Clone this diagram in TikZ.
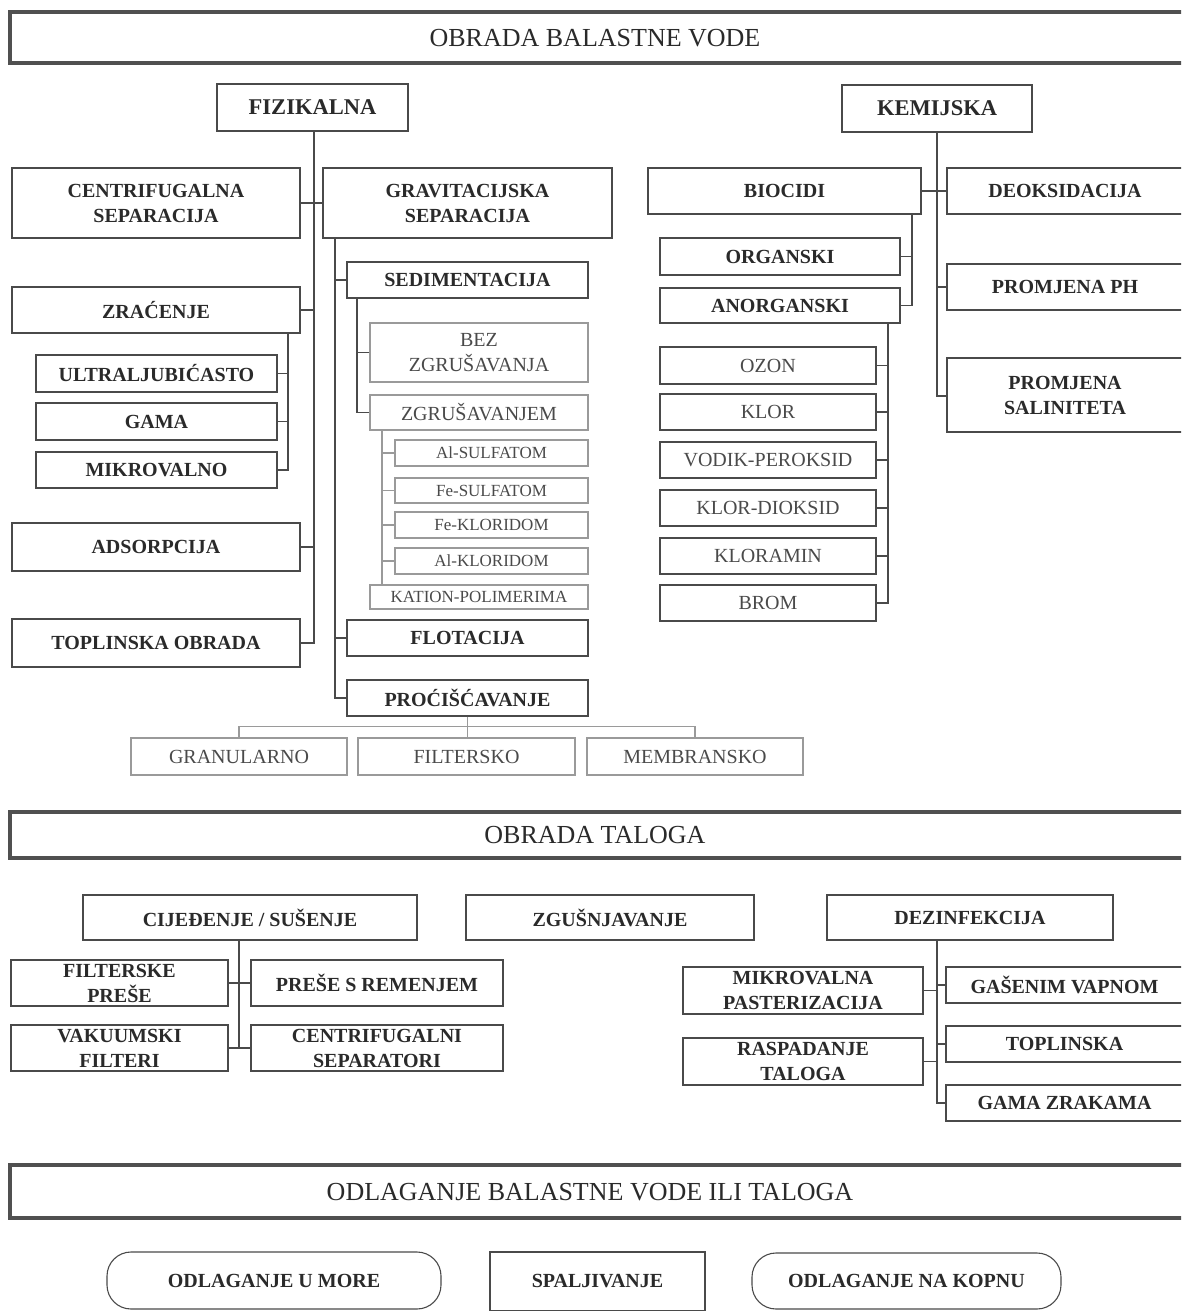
\documentclass[tikz,border=0pt]{standalone}
\usepackage{fontspec}
\setmainfont{Liberation Serif}
\definecolor{bc}{HTML}{4A4A4A}
\definecolor{lc}{HTML}{9A9A9A}
\definecolor{tc}{HTML}{2A2A2A}
\definecolor{ltc}{HTML}{4A4A4A}
\definecolor{hc}{HTML}{505050}
\newcommand{\mkbox}[6]{\node[#6, minimum width={(#4-#2)*1pt}, minimum height={(#5-#3)*1pt}] (#1) at ({(#2+#4)/2},{(#3+#5)/2})}
\tikzset{
  base/.style={draw=bc, line width=1.3pt, inner sep=1pt, align=center, text=tc},
  bb/.style={base, font=\bfseries\fontsize{20}{25}\selectfont},
  big/.style={base, font=\bfseries\fontsize{22.5}{26}\selectfont},
  rb/.style={base, text=ltc, font=\fontsize{20}{25}\selectfont},
  lb/.style={base, draw=lc, line width=1.1pt, text=ltc, font=\fontsize{20}{25}\selectfont},
  sb/.style={lb, font=\fontsize{17}{20}\selectfont},
  rnd/.style={bb, rounded corners=24pt, line width=1.1pt},
  htext/.style={inner sep=0pt, text=tc, font=\fontsize{26}{30}\selectfont},
  hframe/.style={draw=hc, line width=4pt},
  con/.style={draw=bc, line width=1.2pt},
  lcon/.style={draw=lc, line width=1.1pt}
}
\begin{document}
\begin{tikzpicture}[x=1pt,y=-1pt]
\clip (0,0) rectangle (1181,1311);
\fill[white] (0,0) rectangle (1181,1311);

% ---------- header 1
\draw[hframe] (10,12) rectangle (1200,63);
\node[htext] (h1) at (595,38) {OBRADA BALASTNE VODE};

\mkbox{fiz}{217}{84}{408}{131}{big} {FIZIKALNA};
\mkbox{kem}{842}{85}{1032}{132}{big} {KEMIJSKA};

% fizikalna branch
\mkbox{cent}{12}{168}{300}{238}{bb} {CENTRIFUGALNA\\SEPARACIJA};
\mkbox{grav}{323}{168}{612}{238}{bb} {GRAVITACIJSKA\\SEPARACIJA};
\mkbox{zrac}{12}{287}{300}{333}{bb} {ZRAĆENJE};
\mkbox{ultra}{36}{355}{277}{392}{bb} {ULTRALJUBIĆASTO};
\mkbox{gama}{36}{403}{277}{440}{bb} {GAMA};
\mkbox{mikro}{36}{452}{277}{488}{bb} {MIKROVALNO};
\mkbox{ads}{12}{523}{300}{571}{bb} {ADSORPCIJA};
\mkbox{topl}{12}{619}{300}{667}{bb} {TOPLINSKA OBRADA};

\coordinate (ft) at (314,131);
\draw[con] (ft) |- (topl.east);
\draw[con] (cent.east) -- (grav.west);
\draw[con] (zrac.east) -- (zrac.east -| ft);
\draw[con] (ads.east) -- (ads.east -| ft);
\coordinate (zt) at (288,333);
\draw[con] (zt) |- (mikro.east);
\draw[con] (ultra.east) -- (ultra.east -| zt);
\draw[con] (gama.east) -- (gama.east -| zt);

% gravitacijska branch
\mkbox{sed}{347}{262}{588}{298}{bb} {SEDIMENTACIJA};
\mkbox{bez}{370}{323}{588}{382}{lb} {BEZ\\ZGRUŠAVANJA};
\mkbox{zgr}{370}{395}{588}{430}{lb} {ZGRUŠAVANJEM};
\mkbox{alsu}{395}{440}{588}{466}{sb} {Al-SULFATOM};
\mkbox{fesu}{395}{478}{588}{503}{sb} {Fe-SULFATOM};
\mkbox{fekl}{395}{512}{588}{538}{sb} {Fe-KLORIDOM};
\mkbox{alkl}{395}{548}{588}{574}{sb} {Al-KLORIDOM};
\mkbox{kat}{370}{585}{588}{609}{sb} {KATION-POLIMERIMA};
\mkbox{flot}{347}{620}{588}{656}{bb} {FLOTACIJA};
\mkbox{proc}{347}{680}{588}{716}{bb} {PROĆIŠĆAVANJE};
\mkbox{gran}{131}{738}{347}{775}{lb} {GRANULARNO};
\mkbox{filt}{358}{738}{575}{775}{lb} {FILTERSKO};
\mkbox{memb}{587}{738}{803}{775}{lb} {MEMBRANSKO};

\coordinate (gt) at (335,238);
\draw[con] (gt) |- (proc.west);
\draw[con] (sed.west) -- (sed.west -| gt);
\draw[con] (flot.west) -- (flot.west -| gt);
\coordinate (st) at (357,298);
\draw[con] (st) |- (zgr.west);
\draw[con] (bez.west) -- (bez.west -| st);
\coordinate (zgt) at (382,430);
\draw[lcon] (zgt) -- (zgt |- kat.north);
\draw[lcon] (alsu.west) -- (alsu.west -| zgt);
\draw[lcon] (fesu.west) -- (fesu.west -| zgt);
\draw[lcon] (fekl.west) -- (fekl.west -| zgt);
\draw[lcon] (alkl.west) -- (alkl.west -| zgt);
\draw[lcon] (proc.south) -- (proc.south |- filt.north);
\draw[lcon] (gran.north) -- ++(0,-11) -| (memb.north);

% kemijska branch
\mkbox{bio}{648}{168}{921}{214}{bb} {BIOCIDI};
\mkbox{deo}{947}{168}{1183}{214}{bb} {DEOKSIDACIJA};
\mkbox{pph}{947}{264}{1183}{310}{bb} {PROMJENA PH};
\mkbox{sal}{947}{358}{1183}{432}{bb} {PROMJENA\\SALINITETA};
\mkbox{org}{660}{238}{900}{275}{bb} {ORGANSKI};
\mkbox{anorg}{660}{288}{900}{323}{bb} {ANORGANSKI};
\mkbox{ozon}{660}{347}{876}{384}{rb} {OZON};
\mkbox{klor}{660}{394}{876}{430}{rb} {KLOR};
\mkbox{vod}{660}{442}{876}{478}{rb} {VODIK-PEROKSID};
\mkbox{kld}{660}{490}{876}{526}{rb} {KLOR-DIOKSID};
\mkbox{klam}{660}{538}{876}{574}{rb} {KLORAMIN};
\mkbox{brom}{660}{585}{876}{621}{rb} {BROM};

\draw[con] (kem.south) |- ([yshift=-1pt]sal.west);
\draw[con] (bio.east) -- (deo.west);
\draw[con] (pph.west) -- (pph.west -| kem.south);
\coordinate (bt) at (912,214);
\draw[con] (bt) |- (anorg.east);
\draw[con] (org.east) -- (org.east -| bt);
\coordinate (at) at (888,323);
\draw[con] (at) |- (brom.east);
\draw[con] (ozon.east) -- (ozon.east -| at);
\draw[con] (klor.east) -- (klor.east -| at);
\draw[con] (vod.east) -- (vod.east -| at);
\draw[con] (kld.east) -- (kld.east -| at);
\draw[con] (klam.east) -- (klam.east -| at);

% ---------- header 2
\draw[hframe] (10,812) rectangle (1200,858);
\node[htext] (h2) at (595,835) {OBRADA TALOGA};

\mkbox{cij}{83}{895}{417}{940}{bb} {CIJEĐENJE / SUŠENJE};
\mkbox{zgu}{466}{895}{754}{940}{bb} {ZGUŠNJAVANJE};
\mkbox{dez}{827}{895}{1113}{940}{bb} {DEZINFEKCIJA};
\mkbox{fp}{11}{960}{228}{1006}{bb} {FILTERSKE\\PREŠE};
\mkbox{psr}{251}{960}{503}{1006}{bb} {PREŠE S REMENJEM};
\mkbox{vf}{11}{1025}{228}{1071}{bb} {VAKUUMSKI\\FILTERI};
\mkbox{cs}{251}{1025}{503}{1071}{bb} {CENTRIFUGALNI\\SEPARATORI};
\coordinate (ct) at (239,940);
\draw[con] (ct) -- (ct |- vf.east);
\draw[con] (fp.east) -- (psr.west);
\draw[con] (vf.east) -- (cs.west);

\mkbox{mp}{683}{967}{923}{1014}{bb} {MIKROVALNA\\PASTERIZACIJA};
\mkbox{rt}{683}{1038}{923}{1085}{bb} {RASPADANJE\\TALOGA};
\mkbox{gv}{946}{967}{1183}{1003}{bb} {GAŠENIM VAPNOM};
\mkbox{tpl}{946}{1026}{1183}{1062}{bb} {TOPLINSKA};
\mkbox{gz}{946}{1085}{1183}{1121}{bb} {GAMA ZRAKAMA};
\coordinate (dt) at (937,940);
\draw[con] (dt) |- (gz.west);
\draw[con] (mp.east) -- (mp.east -| dt);
\draw[con] (gv.west) -- (gv.west -| dt);
\draw[con] (rt.east) -- (rt.east -| dt);
\draw[con] (tpl.west) -- (tpl.west -| dt);

% ---------- header 3
\draw[hframe] (10,1165) rectangle (1200,1218);
\node[htext] (h3) at (590,1192) {ODLAGANJE BALASTNE VODE ILI TALOGA};

\mkbox{more}{107}{1252}{441}{1309}{rnd} {ODLAGANJE U MORE};
\mkbox{spal}{490}{1252}{705}{1311}{bb, line width=1.1pt} {SPALJIVANJE};
\mkbox{kop}{752}{1253}{1061}{1309}{rnd} {ODLAGANJE NA KOPNU};
\end{tikzpicture}
\end{document}
